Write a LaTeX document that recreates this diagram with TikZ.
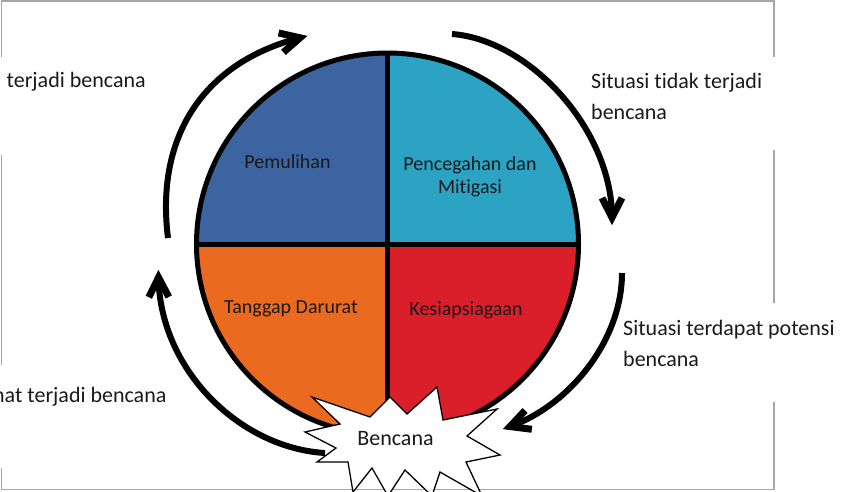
\documentclass[tikz,border=0pt]{standalone}
\usepackage{fontspec}
\setmainfont{Carlito}[Ligatures={NoCommon}]
\usetikzlibrary{calc}
\definecolor{qblue}{HTML}{3B64A0}
\definecolor{qcyan}{HTML}{2CA3C3}
\definecolor{qorange}{HTML}{EA6A1F}
\definecolor{qred}{HTML}{DA1F2B}
\definecolor{frame}{HTML}{A6A6A6}
\definecolor{ink}{HTML}{1A1A1A}
\begin{document}
\begin{tikzpicture}[x=1pt,y=-1pt,
  outer/.style={font=\fontsize{22}{31}\selectfont, text=ink, inner sep=0pt, anchor=base west},
  inner/.style={font=\fontsize{20}{23}\selectfont, text=ink, inner sep=0pt, anchor=base},
  shaft/.style={line width=6pt, line cap=butt},
  head/.style={line width=7pt, line cap=butt, line join=miter, miter limit=10},
  seg/.style={line width=5pt, draw=black}]
\useasboundingbox (0,0) rectangle (850,491);
% frame
\draw[frame, line width=1.6pt] (1.5,1) -- (774,1) -- (774,489.5) -- (1.5,489.5) -- cycle;
% white text boxes
\fill[white] (-2,57) rectangle (150,155);
\fill[white] (-2,365) rectangle (165,468);
\fill[white] (586,57) rectangle (790,150);
\fill[white] (616,303) rectangle (852,402);
% circle
\coordinate (C) at (387.5,244);
\fill[qblue]   (C) -- ++(180:191) arc[start angle=180,end angle=270,radius=191] -- cycle;
\fill[qcyan]   (C) -- ++(270:191) arc[start angle=270,end angle=360,radius=191] -- cycle;
\fill[qred]    (C) -- ++(0:191) arc[start angle=0,end angle=90,radius=191] -- cycle;
\fill[qorange] (C) -- ++(90:191) arc[start angle=90,end angle=180,radius=191] -- cycle;
\draw[seg] (C) circle[radius=191];
\draw[seg] (196.5,244) -- (578.5,244);
\draw[seg] (387.5,53) -- (387.5,435);
% arrows
\coordinate (tlS) at (168,238);
\coordinate (tlE) at (300,37.8);
\coordinate (tlB) at (205,62);
\coordinate (trS) at (452,34);
\coordinate (trE) at (612,217.5);
\coordinate (trB) at (612,130);
\coordinate (brS) at (622,273);
\coordinate (brE) at (510,426.5);
\coordinate (brB) at (570,405);
\coordinate (blS) at (325,453);
\coordinate (blE) at (158.5,277.5);
\coordinate (blB) at (160,370);
\draw[shaft] (tlS) .. controls (155,135) and (tlB) .. (tlE);
\draw[head] ($(tlE)!22pt!27:(tlB)$) -- (tlE) -- ($(tlE)!22pt!-27:(tlB)$);
\draw[shaft] (trS) .. controls (530,40) and (trB) .. (trE);
\draw[head] ($(trE)!22pt!27:(trB)$) -- (trE) -- ($(trE)!22pt!-27:(trB)$);
\draw[shaft] (blS) .. controls (240,448) and (blB) .. (blE);
\draw[head] ($(blE)!22pt!27:(blB)$) -- (blE) -- ($(blE)!22pt!-27:(blB)$);
% star
\draw[fill=white, line width=1.3pt, line join=miter]
  (305,432) -- (340,424) -- (312,397) -- (370,417) -- (390,397) -- (407,414)
  -- (437,387) -- (443,420) -- (497,409) -- (467,436) -- (500,455) -- (466,462)
  -- (482,496) -- (440,472) -- (432,496) -- (405,470) -- (388,496) -- (372,468)
  -- (353,492) -- (348,462) -- (317,462) -- (336,448) -- cycle;
\draw[shaft] (brS) .. controls (622,340) and (brB) .. (brE);
\draw[head] ($(brE)!22pt!27:(brB)$) -- (brE) -- ($(brE)!22pt!-27:(brB)$);
% labels
\node[inner] (pem) at (287.5,168) {Pemulihan};
\node[inner] (pen) at (470,170) {\begin{tabular}[t]{@{}c@{}}Pencegahan dan\\Mitigasi\end{tabular}};
\node[inner] (tan) at (291,313) {Tanggap Darurat};
\node[inner] (kes) at (466,315) {Kesiapsiagaan};
\node[inner, font=\fontsize{22}{26}\selectfont] (ben) at (395.5,445) {Bencana};
\node[outer] (ltop) at (6.5,87) {terjadi bencana};
\node[outer] (lbot) at (-7,402) {nat terjadi bencana};
\node[outer] (rtop) at (591,88) {\begin{tabular}[t]{@{}l@{}}Situasi tidak terjadi\\bencana\end{tabular}};
\node[outer] (rbot) at (623,335) {\begin{tabular}[t]{@{}l@{}}Situasi terdapat potensi\\bencana\end{tabular}};
\end{tikzpicture}
\end{document}
